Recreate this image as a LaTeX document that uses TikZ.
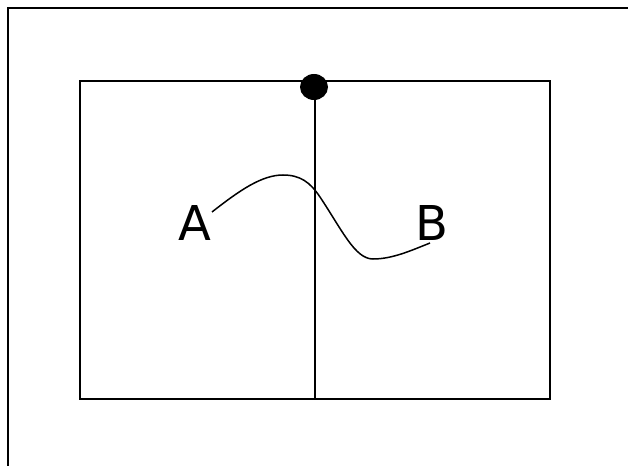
\documentclass[tikz,border=0pt]{standalone}
\usepackage{fontspec}
\setmainfont{DejaVu Sans}
\usetikzlibrary{shapes.geometric}
\begin{document}
\begin{tikzpicture}
				[x=1pt, y=-1pt, line width=1.5pt, lbl/.style = {font=\fontsize{48}{48}\selectfont, inner sep=0pt}]
				\useasboundingbox (0,0) rectangle (628,465);
				\draw[line width=2pt] (8,470)--(8,8)--(633,8);
				\node[draw, line width=2pt, inner sep=0pt, minimum width=470pt, minimum height=318pt] (box) at (315,240) {};
				\node[ellipse, fill=black, inner sep=0pt, minimum width=28pt, minimum height=26pt] (pin) at (314,87) {};
				\draw (box.north)--(box.south);
				\node[lbl] (a) at (195,223) {A};
				\node[lbl] (b) at (432,223) {B};
				\coordinate (p0) at (212,212);
				\coordinate (p1) at (283,175);
				\coordinate (p2) at (373,259);
				\coordinate (p3) at (430,243);
				\draw (p0) .. controls (240,190) and (262,175) .. (p1) .. controls (300,175) and (310,182) .. (320,197) .. controls (342,230) and (355,259) .. (p2) .. controls (392,259) and (410,251) .. (p3);
			\end{tikzpicture}
\end{document}
